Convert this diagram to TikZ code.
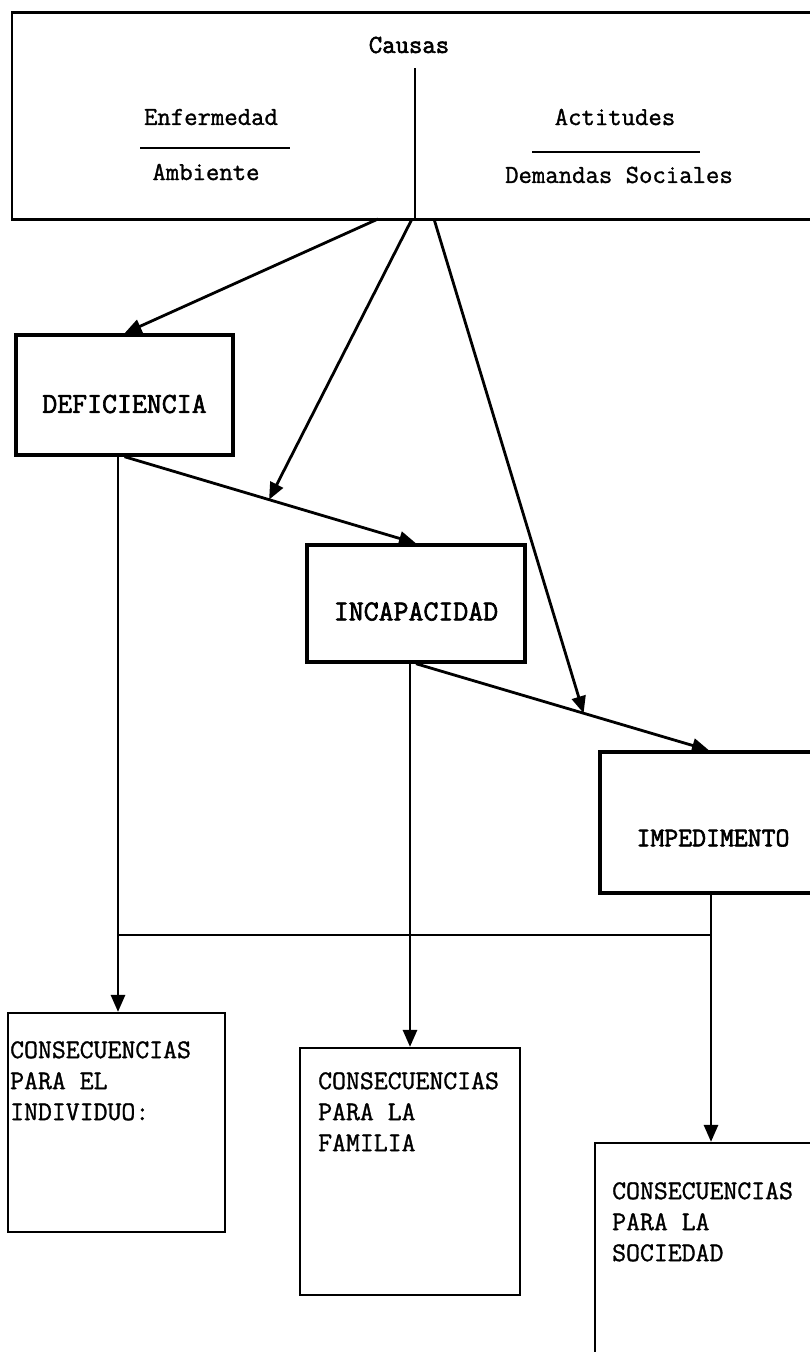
\documentclass[tikz,border=0pt]{standalone}
\usepackage{fontspec}
\newfontfamily\tw{Latin Modern Mono}[FakeBold=1.2]
\newfontfamily\twb{Latin Modern Mono}[FakeBold=2.2]
\usetikzlibrary{arrows.meta,calc}
\tikzset{
  thinbox/.style={draw, line width=2.2pt, inner sep=0pt},
  thickbox/.style={draw, line width=3.4pt, inner sep=0pt},
  title/.style={font=\twb\fontsize{29}{32}\selectfont, inner sep=0pt},
  plain/.style={font=\tw\fontsize{26}{30}\selectfont, inner sep=0pt},
  cons/.style={font=\tw\fontsize{27}{31}\selectfont, align=left, anchor=north west, inner sep=0pt},
  conn/.style={line width=2.8pt},
  arr/.style={conn, -{Triangle[length=17pt,width=14pt]}}
}
\begin{document}
\begin{tikzpicture}[x=1pt,y=-1pt]
\clip (0,0) rectangle (810,1352);
\fill[white] (0,0) rectangle (810,1352);

% top box
\node[thinbox, minimum width=818pt, minimum height=207pt] (causas) at (421,116) {};
\node[plain, font=\twb\fontsize{26}{30}\selectfont] (causaslbl) at (409,45) {Causas};
\node[plain] (enf) at (211,117) {Enfermedad};
\node[plain] (amb) at (206,172) {Ambiente};
\node[plain] (act) at (615,117) {Actitudes};
\node[plain] (dem) at (619,175) {Demandas Sociales};
\draw[line width=2.2pt] (140,148) -- (290,148);
\draw[line width=2.2pt] (532,152) -- (700,152);
\coordinate (divtop) at (415,68);
\draw[line width=2.4pt] (divtop) -- (divtop|-causas.south);

% main boxes
\node[thickbox, minimum width=217pt, minimum height=120pt] (def) at (124.5,395) {};
\node[title] (deft) at ([yshift=-9pt]def.center) {DEFICIENCIA};
\node[thickbox, minimum width=218pt, minimum height=117pt] (inc) at (416,603.5) {};
\node[title] (inct) at ([yshift=-8pt]inc.center) {INCAPACIDAD};
\node[thickbox, minimum width=230pt, minimum height=141pt] (imp) at (715,822.5) {};
\node[title, font=\twb\fontsize{27}{32}\selectfont] (impt) at (713,838) {IMPEDIMENTO};

% consequence boxes
\node[thinbox, minimum width=217pt, minimum height=219pt] (ind) at (116.5,1122.5) {};
\node[cons] (indt) at (10,1041) {CONSECUENCIAS\\PARA EL\\INDIVIDUO:};
\node[thinbox, minimum width=220pt, minimum height=247pt] (fam) at (410,1171.5) {};
\node[cons] (famt) at (318,1072) {CONSECUENCIAS\\PARA LA\\FAMILIA};
\node[thinbox, minimum width=235pt, minimum height=260pt] (soc) at (712.5,1273) {};
\node[cons] (soct) at (612,1182) {CONSECUENCIAS\\PARA LA\\SOCIEDAD};

% coordinates
\coordinate (c1) at (378,219);
\coordinate (c2) at (412,219);
\coordinate (c3) at (434,219);
\coordinate (impin) at ([xshift=-6pt]imp.north);
\coordinate (p2) at ($(def.south)!0.496!(inc.north)$);
\coordinate (p3) at ($(inc.south)!0.572!(impin)$);
\coordinate (jl) at (118,935);
\coordinate (jr) at (711,935);
\coordinate (fx) at (410,662);

% connectors
\draw[arr] (c1) -- (def.north);
\draw[arr] (c2) -- (p2);
\draw[arr] (c3) -- (p3);
\draw[arr] (def.south) -- (inc.north);
\draw[arr] (inc.south) -- (impin);
\draw[conn] (jl|-def.south) -- (jl);
\draw[arr] (jl) -- (jl|-ind.north);
\draw[conn] (jl) -- (jr);
\draw[conn] (jr|-imp.south) -- (jr);
\draw[arr] (jr) -- (jr|-soc.north);
\draw[arr] (fx|-inc.south) -- (fx|-fam.north);
\end{tikzpicture}
\end{document}
